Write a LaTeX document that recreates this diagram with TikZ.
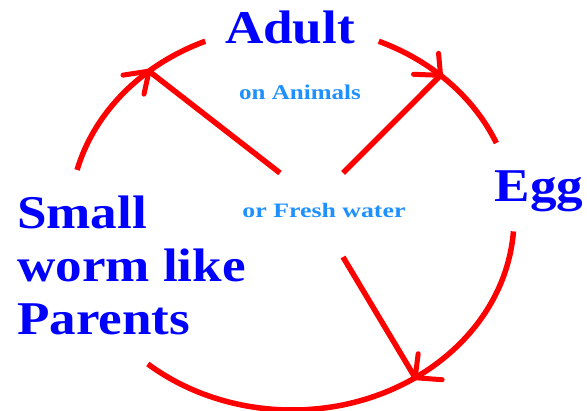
\documentclass[tikz,border=0pt]{standalone}
\usepackage{fontspec}
\setmainfont{Liberation Serif}
\definecolor{dblue}{RGB}{0,0,255}
\definecolor{lblue}{RGB}{30,144,255}
\definecolor{cred}{RGB}{255,0,0}
\begin{document}
\begin{tikzpicture}[x=1pt,y=-1pt,
  cyc/.style={draw=cred,line width=5.5pt},
  barb/.style={draw=cred,line width=5pt,line cap=round},
  big/.style={text=dblue,font=\fontsize{47}{53}\selectfont\bfseries,inner sep=0pt,anchor=base},
  small/.style={text=lblue,font=\fontsize{21}{25}\selectfont\bfseries,inner sep=0pt,anchor=base}]
\useasboundingbox[fill=white] (0,0) rectangle (587,411);
\coordinate (C) at (292,218);
\coordinate (tipA) at ([shift={(229.9:222 and 192)}]C);
\coordinate (tipB) at ([shift={(312:222 and 192)}]C);
\coordinate (tipC) at ([shift={(56.3:222 and 192)}]C);
\coordinate (hubA) at (280,173);
\coordinate (hubB) at (343,173);
\coordinate (hubC) at (343,257);
% cycle arcs
\draw[cyc] ([shift={(194.5:222 and 192)}]C) arc[start angle=194.5,end angle=247,x radius=222,y radius=192];
\draw[cyc] ([shift={(293:222 and 192)}]C) arc[start angle=293,end angle=337,x radius=222,y radius=192];
\draw[cyc] ([shift={(4:222 and 192)}]C) arc[start angle=4,end angle=130.5,x radius=222,y radius=192];
% spokes
\draw[cyc] (hubA) -- (tipA);
\draw[cyc] (hubB) -- (tipB);
\draw[cyc] (hubC) -- (tipC);
% arrow barbs
\draw[barb] (tipA) -- ++(-26,4);
\draw[barb] (tipA) -- ++(-5,23);
\draw[barb] (tipB) -- ++(-27,-1);
\draw[barb] (tipB) -- ++(-2,-22);
\draw[barb] (tipC) -- ++(3,-24);
\draw[barb] (tipC) -- ++(27,2);
% texts
\node[big] (adult) at (290,44) {\scalebox{1.13}[1]{Adult}};
\node[big] (egg) at (539,202) {\scalebox{1.13}[1]{Egg}};
\node[small] (anim) at (300,100) {\scalebox{1.19}[1]{on Animals}};
\node[small,font=\fontsize{20.5}{24}\selectfont\bfseries] (fresh) at (324,218) {\scalebox{1.26}[1]{or Fresh water}};
\node[big,anchor=base west] (worm) at (17,229) {\scalebox{1.13}[1]{\begin{tabular}[t]{@{}l@{}}Small\\worm like\\Parents\end{tabular}}};
\end{tikzpicture}
\end{document}
